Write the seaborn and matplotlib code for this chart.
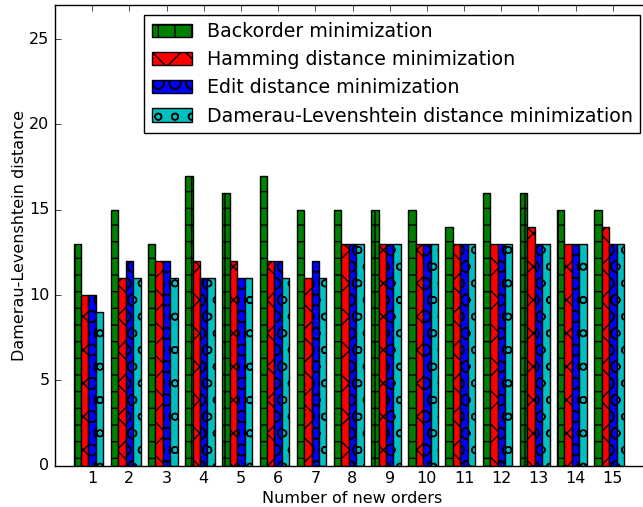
import matplotlib
matplotlib.use("Agg")
import matplotlib.pyplot as plt
import seaborn as sns
import pandas as pd
import numpy as np

plt.style.use('classic')
plt.rcParams['font.size'] = 11.5

orders = [str(i) for i in range(1, 16)]
series = ["Backorder minimization", "Hamming distance minimization",
          "Edit distance minimization", "Damerau-Levenshtein distance minimization"]
backorder = [13, 15, 13, 17, 16, 17, 15, 15, 15, 15, 14, 16, 16, 15, 15]
hamming = [10, 11, 12, 12, 12, 12, 11, 13, 13, 13, 13, 13, 14, 13, 14]
edit = [10, 12, 12, 11, 11, 12, 12, 13, 13, 13, 13, 13, 13, 13, 13]
damerau = [9, 11, 11, 11, 11, 11, 11, 13, 13, 13, 13, 13, 13, 13, 13]
colors = ["#008000", "#ff0000", "#0000ff", "#00bfbf"]
hatches = ["+", "x", "O", "o"]

rows = []
for name, vals in zip(series, [backorder, hamming, edit, damerau]):
    for o, v in zip(orders, vals):
        rows.append({"orders": o, "series": name, "value": v})
df = pd.DataFrame(rows)

fig = plt.figure(figsize=(6.43, 5.07), dpi=100)
ax = fig.add_axes([55/643, 41.3/507, (650-55)/643, (465.7-5)/507])

sns.barplot(data=df, x="orders", y="value", hue="series", hue_order=series,
            order=orders, palette=colors, width=0.8, gap=0, errorbar=None,
            saturation=1, ax=ax, legend=False)

for cont, h in zip(ax.containers, hatches):
    for p in cont.patches:
        p.set_hatch(h)
        p.set_edgecolor("black")
        p.set_linewidth(1.0)

ax.set_xlim(-0.9, 15.1)
ax.set_ylim(0, 27)
ax.set_yticks([0, 5, 10, 15, 20, 25])
ax.set_xticks(np.arange(len(orders)) + 0.1)
ax.set_xticklabels(orders)
ax.tick_params(labelsize=11.5)
ax.set_xlabel("Number of new orders", fontsize=11.5, labelpad=3.5)
ax.set_ylabel("Damerau-Levenshtein distance", fontsize=11.5, labelpad=1.5)
ax.legend(ax.containers, series, loc="upper right", fontsize=13.7,
          labelspacing=0.48, handlelength=2.1, handletextpad=0.8,
          borderpad=0.4, borderaxespad=0.5)

fig.savefig("out.png", dpi=100)
